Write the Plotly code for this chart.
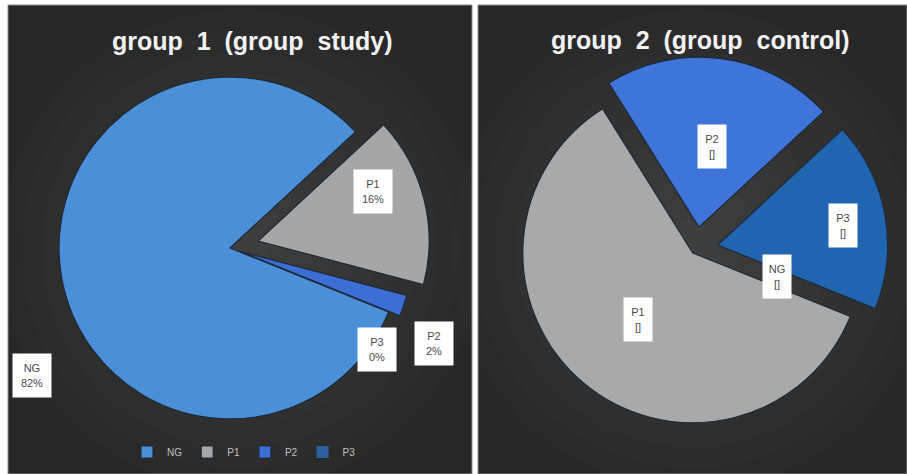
import plotly.graph_objects as go

# ---- data ----
categories = ["NG", "P1", "P2", "P3"]
group1_values = [82, 16, 2, 0]
group1_text = ["82%", "16%", "2%", "0%"]
group2_values = [0, 60, 22, 18]
group2_text = ["[]", "[]", "[]", "[]"]
titles = ["group 1 (group study)", "group 2 (group control)"]

# ---- styles ----
W, H = 907, 474
colors1 = ["#4a8fd8", "#a6a6a6", "#3c6fd6", "#2c5f9e"]
colors2 = ["#4a82c0", "#a9a9a9", "#3f74d8", "#2164b0"]
pull1 = [0, 0.17, 0.07, 0]
pull2 = [0, 0.03, 0.13, 0.13]
line1 = [1.2, 1.2, 1.2, 0]
line2 = [0, 1.2, 1.2, 1.2]


def px(x):
    return x / W


def py(y):
    return 1 - y / H


fig = go.Figure()

# left pie: centre (230,248), box side 400
fig.add_trace(go.Pie(
    labels=categories, values=group1_values, sort=False, direction="clockwise",
    rotation=112, pull=pull1, textinfo="none", hoverinfo="label+percent",
    marker=dict(colors=colors1, line=dict(color="#1e2a3a", width=line1)),
    domain=dict(x=[px(30), px(430)], y=[py(448), py(48)]),
    legend="legend",
))
# right pie: centre (696,249), box side 384
fig.add_trace(go.Pie(
    labels=categories, values=group2_values, sort=False, direction="clockwise",
    rotation=112, pull=pull2, textinfo="none", hoverinfo="label+percent",
    marker=dict(colors=colors2, line=dict(color="#1e2a3a", width=line2)),
    domain=dict(x=[px(504), px(888)], y=[py(441), py(57)]),
    legend="legend2",
))

# ---- panel backgrounds (fake radial gradient) ----
shapes = []
panels = [(8, 5, 472, 474), (478, 5, 907, 474)]
for (x0, y0, x1, y1) in panels:
    shapes.append(dict(type="rect", xref="paper", yref="paper",
                       x0=px(x0), x1=px(x1), y0=py(y1), y1=py(y0),
                       fillcolor="#282828", line=dict(color="#8c8c8c", width=1),
                       layer="below"))
    cx, cy = (x0 + x1) / 2, (y0 + y1) / 2 + 10
    for k in range(11):
        r = 240 - k * 21
        shapes.append(dict(type="circle", xref="paper", yref="paper",
                           x0=px(cx - r), x1=px(cx + r),
                           y0=py(cy + r), y1=py(cy - r),
                           fillcolor="rgba(255,255,255,0.01)",
                           line=dict(width=0), layer="below"))

# ---- titles ----
title_font = dict(family="Liberation Sans, Arial", size=25, color="#f2f2f2")
NB = "\u00a0"


def spaced(t):
    return t.replace(" ", NB + " ")


annotations = [
    dict(text=f"<b>{spaced(titles[0])}</b>", x=px(252), y=py(41), xref="paper", yref="paper",
         showarrow=False, xanchor="center", yanchor="middle", font=title_font),
    dict(text=f"<b>{spaced(titles[1])}</b>", x=px(700), y=py(40), xref="paper", yref="paper",
         showarrow=False, xanchor="center", yanchor="middle", font=title_font),
]

# ---- data label boxes ----
label_pos1 = {"NG": (32, 375), "P1": (373, 191), "P2": (434, 343), "P3": (377, 349)}
label_pos2 = {"NG": (777, 276), "P1": (638, 319), "P2": (712, 146), "P3": (843, 226)}
for pos, texts, w in [(label_pos1, group1_text, 30), (label_pos2, group2_text, 20)]:
    for cat, t in zip(categories, texts):
        x, y = pos[cat]
        annotations.append(dict(
            text=f"{cat}<br>{t}", x=px(x), y=py(y), xref="paper", yref="paper",
            showarrow=False, xanchor="center", yanchor="middle",
            bgcolor="#ffffff", borderpad=4, width=w, height=35,
            font=dict(family="Liberation Sans, Arial", size=11, color="#4a4a4a")))

legend_style = dict(orientation="h", xanchor="center", yanchor="middle",
                    bgcolor="rgba(0,0,0,0)", itemwidth=30,
                    font=dict(family="Liberation Sans, Arial", size=10, color="#c0c0c0"))

fig.update_layout(
    width=W, height=H, margin=dict(l=0, r=0, t=0, b=0),
    paper_bgcolor="#ffffff", plot_bgcolor="#ffffff",
    shapes=shapes, annotations=annotations,
    legend=dict(x=px(244), y=py(452), **legend_style),
    legend2=dict(x=px(702), y=py(452), **legend_style),
    showlegend=True,
)

fig.write_html("out.html", config={"displayModeBar": False},
               post_script="document.body.style.margin='0px';document.body.style.overflow='hidden';")
